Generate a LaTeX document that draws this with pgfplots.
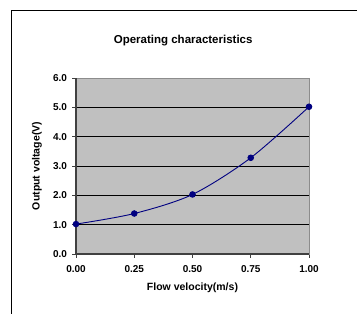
\documentclass[border=0pt]{standalone}
\usepackage{pgfplots}
\pgfplotsset{compat=1.18}
\usepackage{fontspec}
\setmainfont{Liberation Sans}
\definecolor{plotbg}{HTML}{C0C0C0}
\definecolor{navy}{HTML}{000080}
\definecolor{boxgray}{HTML}{8C8C8C}
\definecolor{axdark}{HTML}{404040}
\begin{document}
\begin{tikzpicture}[x=1pt,y=1pt]
\useasboundingbox (0,0) rectangle (357,314);
\draw[black, line width=1pt] (11,0) -- (11,303) -- (357,303);
\begin{axis}[
  scale only axis,
  width=233pt, height=176pt,
  at={(76pt,60pt)}, anchor=south west,
  xmin=0, xmax=1, ymin=0, ymax=6,
  xtick={0,0.25,0.5,0.75,1},
  ytick={0,1,2,3,4,5,6},
  axis background/.style={fill=plotbg},
  axis line style={boxgray, line width=0.9pt},
  ymajorgrids,
  grid style={black, line width=0.8pt},
  tick pos=left,
  tick align=outside,
  major tick length=3.5pt,
  tick style={axdark, line width=0.8pt},
  /pgf/number format/assume math mode=true,
  x tick label style={/pgf/number format/.cd, fixed, fixed zerofill, precision=2, /tikz/.cd, font=\bfseries\fontsize{10}{12}\selectfont, yshift=-4pt},
  y tick label style={/pgf/number format/.cd, fixed, fixed zerofill, precision=1, /tikz/.cd, font=\bfseries\fontsize{10}{12}\selectfont, xshift=-2pt},
  title={Operating characteristics},
  title style={font=\bfseries\fontsize{11.5}{13}\selectfont, at={(rel axis cs:0.46,1)}, anchor=center, yshift=31pt},
  xlabel={Flow velocity(m/s)},
  xlabel style={font=\bfseries\fontsize{10.5}{12}\selectfont, at={(rel axis cs:0.5,0)}, anchor=center, yshift=-34pt},
  ylabel={Output voltage(V)},
  ylabel style={font=\bfseries\fontsize{10.5}{12}\selectfont, at={(rel axis cs:0,0.5)}, anchor=center, rotate=0, yshift=39pt},
  clip=false,
]
\draw[axdark, line width=1.5pt] (rel axis cs:0,1) -- (rel axis cs:0,0) -- (rel axis cs:1,0);
\addplot[navy, line width=0.9pt, smooth, tension=0.5, mark=*, mark size=2.8pt, mark options={fill=navy, draw=navy}]
  coordinates {(0,1.02) (0.25,1.38) (0.5,2.03) (0.75,3.28) (1,5.02)};
\end{axis}
\end{tikzpicture}
\end{document}
